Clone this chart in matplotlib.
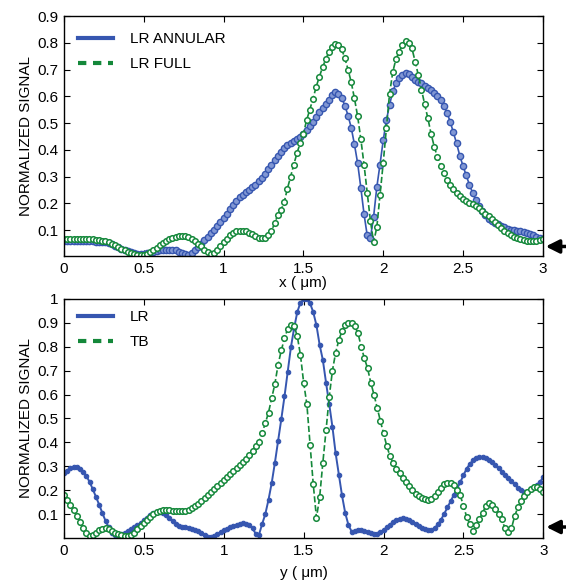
import numpy as np
import matplotlib
matplotlib.use("Agg")
import matplotlib.pyplot as plt
from matplotlib.lines import Line2D

plt.rcParams["font.family"] = ["Liberation Sans", "DejaVu Sans"]

x_annular = [
    0.060, 0.059, 0.059, 0.058, 0.058, 0.058, 0.058, 0.058, 0.058, 0.058,
    0.057, 0.057, 0.056, 0.054, 0.051, 0.047, 0.042, 0.037, 0.031, 0.026,
    0.021, 0.017, 0.014, 0.012, 0.012, 0.012, 0.013, 0.015, 0.018, 0.021,
    0.024, 0.026, 0.027, 0.027, 0.026, 0.024, 0.020, 0.015, 0.010, 0.008,
    0.014, 0.025, 0.038, 0.050, 0.062, 0.075, 0.088, 0.102, 0.116, 0.130,
    0.145, 0.160, 0.178, 0.195, 0.210, 0.222, 0.232, 0.241, 0.250, 0.260,
    0.270, 0.282, 0.295, 0.310, 0.328, 0.345, 0.362, 0.378, 0.392, 0.405,
    0.417, 0.426, 0.434, 0.441, 0.449, 0.460, 0.473, 0.490, 0.505, 0.522,
    0.540, 0.555, 0.570, 0.587, 0.604, 0.615, 0.610, 0.595, 0.565, 0.528,
    0.482, 0.420, 0.350, 0.258, 0.160, 0.080, 0.070, 0.150, 0.260, 0.345,
    0.435, 0.510, 0.568, 0.618, 0.648, 0.667, 0.680, 0.686, 0.682, 0.672,
    0.662, 0.655, 0.648, 0.640, 0.632, 0.624, 0.614, 0.600, 0.585, 0.565,
    0.538, 0.505, 0.465, 0.424, 0.378, 0.340, 0.305, 0.270, 0.240, 0.212,
    0.190, 0.172, 0.156, 0.143, 0.134, 0.127, 0.121, 0.115, 0.111, 0.106,
    0.102, 0.099, 0.097, 0.095, 0.093, 0.090, 0.086, 0.081, 0.076, 0.071,
    0.067,
]
x_full = [
    0.068, 0.068, 0.068, 0.067, 0.067, 0.066, 0.066, 0.066, 0.065, 0.065,
    0.064, 0.063, 0.061, 0.058, 0.054, 0.049, 0.043, 0.037, 0.031, 0.025,
    0.020, 0.015, 0.011, 0.008, 0.007, 0.008, 0.012, 0.018, 0.026, 0.035,
    0.044, 0.053, 0.060, 0.066, 0.071, 0.075, 0.077, 0.078, 0.077, 0.074,
    0.068, 0.060, 0.050, 0.039, 0.027, 0.017, 0.012, 0.016, 0.027, 0.041,
    0.055, 0.068, 0.080, 0.089, 0.095, 0.098, 0.098, 0.096, 0.091, 0.085,
    0.078, 0.072, 0.069, 0.071, 0.080, 0.098, 0.125, 0.158, 0.175, 0.205,
    0.255, 0.300, 0.345, 0.388, 0.425, 0.460, 0.510, 0.550, 0.590, 0.635,
    0.673, 0.708, 0.738, 0.766, 0.785, 0.794, 0.791, 0.776, 0.742, 0.700,
    0.652, 0.592, 0.525, 0.440, 0.345, 0.240, 0.135, 0.055, 0.110, 0.230,
    0.350, 0.480, 0.610, 0.690, 0.740, 0.765, 0.792, 0.806, 0.800, 0.780,
    0.730, 0.680, 0.625, 0.570, 0.518, 0.460, 0.412, 0.372, 0.340, 0.312,
    0.287, 0.268, 0.252, 0.239, 0.228, 0.218, 0.210, 0.203, 0.196, 0.189,
    0.181, 0.171, 0.162, 0.153, 0.143, 0.131, 0.119, 0.107, 0.097, 0.089,
    0.082, 0.076, 0.071, 0.066, 0.062, 0.060, 0.059, 0.059, 0.060, 0.062,
    0.065,
]
y_lr = [
    0.270, 0.282, 0.291, 0.296, 0.297, 0.290, 0.277, 0.260, 0.235, 0.205,
    0.173, 0.140, 0.105, 0.072, 0.045, 0.022, 0.011, 0.012, 0.017, 0.023,
    0.029, 0.036, 0.044, 0.053, 0.063, 0.074, 0.085, 0.096, 0.104, 0.109,
    0.110, 0.105, 0.095, 0.082, 0.070, 0.060, 0.052, 0.047, 0.044, 0.042,
    0.039, 0.034, 0.028, 0.021, 0.013, 0.006, 0.003, 0.008, 0.016, 0.024,
    0.032, 0.039, 0.045, 0.050, 0.055, 0.059, 0.061, 0.060, 0.055, 0.040,
    0.018, 0.013, 0.058, 0.100, 0.160, 0.230, 0.315, 0.405, 0.497, 0.592,
    0.695, 0.797, 0.877, 0.945, 0.985, 0.998, 0.998, 0.982, 0.945, 0.890,
    0.808, 0.745, 0.650, 0.560, 0.465, 0.355, 0.265, 0.178, 0.105, 0.055,
    0.027, 0.030, 0.035, 0.032, 0.028, 0.025, 0.020, 0.016, 0.017, 0.024,
    0.033, 0.045, 0.056, 0.066, 0.075, 0.081, 0.082, 0.080, 0.075, 0.067,
    0.058, 0.050, 0.042, 0.037, 0.034, 0.035, 0.042, 0.057, 0.077, 0.102,
    0.128, 0.155, 0.180, 0.206, 0.233, 0.263, 0.290, 0.310, 0.325, 0.334,
    0.339, 0.340, 0.336, 0.328, 0.317, 0.304, 0.291, 0.278, 0.264, 0.250,
    0.237, 0.224, 0.211, 0.199, 0.191, 0.194, 0.206, 0.214, 0.222, 0.236,
    0.254,
]
y_tb = [
    0.180, 0.160, 0.140, 0.118, 0.090, 0.068, 0.043, 0.020, 0.009, 0.012,
    0.022, 0.032, 0.038, 0.040, 0.037, 0.030, 0.023, 0.017, 0.012, 0.008,
    0.007, 0.012, 0.022, 0.036, 0.050, 0.064, 0.077, 0.089, 0.099, 0.107,
    0.113, 0.117, 0.118, 0.117, 0.115, 0.114, 0.113, 0.113, 0.115, 0.119,
    0.125, 0.133, 0.143, 0.155, 0.167, 0.179, 0.192, 0.205, 0.218, 0.230,
    0.242, 0.254, 0.266, 0.279, 0.292, 0.305, 0.318, 0.332, 0.348, 0.365,
    0.385, 0.403, 0.440, 0.480, 0.525, 0.585, 0.645, 0.725, 0.785, 0.835,
    0.875, 0.893, 0.887, 0.845, 0.765, 0.650, 0.560, 0.390, 0.225, 0.085,
    0.170, 0.315, 0.450, 0.590, 0.700, 0.775, 0.828, 0.866, 0.890, 0.900,
    0.898, 0.885, 0.857, 0.800, 0.752, 0.710, 0.650, 0.600, 0.545, 0.490,
    0.438, 0.385, 0.343, 0.314, 0.290, 0.270, 0.252, 0.235, 0.216, 0.199,
    0.186, 0.175, 0.167, 0.162, 0.161, 0.165, 0.175, 0.192, 0.210, 0.224,
    0.231, 0.230, 0.220, 0.202, 0.178, 0.135, 0.088, 0.058, 0.028, 0.055,
    0.080, 0.105, 0.135, 0.145, 0.140, 0.122, 0.102, 0.078, 0.040, 0.025,
    0.040, 0.090, 0.128, 0.155, 0.177, 0.194, 0.205, 0.213, 0.212, 0.204,
    0.193,
]

top_labels = ["LR ANNULAR", "LR FULL"]
bottom_labels = ["LR", "TB"]
x_ticks = [0, 0.5, 1, 1.5, 2, 2.5, 3]
x_tick_labels = ["0", "0.5", "1", "1.5", "2", "2.5", "3"]
top_yticks = [0.1, 0.2, 0.3, 0.4, 0.5, 0.6, 0.7, 0.8, 0.9]
bottom_yticks = [0.1, 0.2, 0.3, 0.4, 0.5, 0.6, 0.7, 0.8, 0.9, 1.0]
arrow_level = [0.04, 0.046]

blue = "#3656b0"
green = "#14883a"


def style_axes(ax, yticks, ylim, xlabel, xpad):
    ax.set_xlim(0, 3)
    ax.set_ylim(*ylim)
    ax.set_xticks(x_ticks)
    ax.set_xticklabels(x_tick_labels)
    ax.set_yticks(yticks)
    ax.set_yticklabels(["%g" % t for t in yticks])
    ax.tick_params(direction="in", top=True, right=True, labelsize=11,
                   length=4, width=0.8, pad=4)
    ax.set_ylabel("NORMALIZED SIGNAL", fontsize=11, labelpad=3)
    ax.set_xlabel(xlabel, fontsize=11, labelpad=xpad)
    for s in ax.spines.values():
        s.set_linewidth(1.0)


def add_legend(ax, labels, top):
    handles = [Line2D([], [], color=blue, lw=3),
               Line2D([], [], color=green, lw=3, ls=(0, (2, 1.6)))]
    ax.legend(handles, labels, loc="upper left", frameon=False, fontsize=11,
              handlelength=2.3, handletextpad=1.1, labelspacing=0.7,
              borderaxespad=0.35, bbox_to_anchor=(0.005, top))


def add_arrow(ax, level):
    ax.annotate("", xy=(1.006, level), xytext=(1.05, level),
                xycoords="axes fraction", textcoords="axes fraction",
                arrowprops=dict(arrowstyle="-|>", color="k", lw=2.5,
                                mutation_scale=20, shrinkA=0, shrinkB=0),
                annotation_clip=False)


fig = plt.figure(figsize=(5.66, 5.82), dpi=100)
ax1 = fig.add_axes([0.113, 0.560, 0.846, 0.4125])
ax2 = fig.add_axes([0.113, 0.0756, 0.847, 0.4107])

xa = np.linspace(0, 3, len(x_annular))
xf = np.linspace(0, 3, len(x_full))
ax1.plot(xa, x_annular, "-", color=blue, lw=1.2, marker="o", ms=4.5,
         mfc="#8197d4", mec=blue, mew=1.0)
ax1.plot(xf, x_full, "--", color=green, lw=1.2, marker="o", ms=4,
         mfc="white", mec=green, mew=1.1)
style_axes(ax1, top_yticks, (0.003, 0.9), "x ( μm)", 0)
add_legend(ax1, top_labels, 0.98)
add_arrow(ax1, arrow_level[0])

xl = np.linspace(0, 3, len(y_lr))
xt = np.linspace(0, 3, len(y_tb))
ax2.plot(xl, y_lr, "-", color=blue, lw=1.4, marker="o", ms=3.2,
         mfc=blue, mec=blue, mew=0.8)
ax2.plot(xt, y_tb, "--", color=green, lw=1.2, marker="o", ms=4,
         mfc="white", mec=green, mew=1.1)
style_axes(ax2, bottom_yticks, (0, 1.0), "y ( μm)", 6)
add_legend(ax2, bottom_labels, 1.0)
add_arrow(ax2, arrow_level[1])

fig.savefig("out.png", dpi=100)
